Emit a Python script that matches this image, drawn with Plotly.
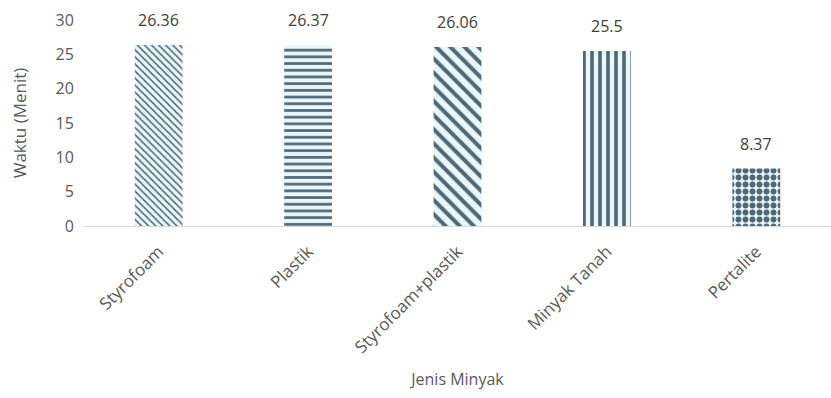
import plotly.graph_objects as go

categories = ["Styrofoam", "Plastik", "Styrofoam+plastik", "Minyak Tanah", "Pertalite"]
values = [26.36, 26.37, 26.06, 25.5, 8.37]
labels = ["26.36", "26.37", "26.06", "25.5", "8.37"]
shapes = ["\\", "-", "\\", "|", "."]
sizes = [5, 6.7, 10, 8, 7]
solidities = [0.3, 0.4, 0.4, 0.45, 0.55]

FG = "#4f6878"
BG = "#eaf6fa"
TXT = "#595959"
FONT = "Open Sans"

fig = go.Figure()
for c, v, sh, sz, so in zip(categories, values, shapes, sizes, solidities):
    fig.add_trace(go.Bar(
        x=[c], y=[v],
        width=0.32,
        marker=dict(color=BG, line=dict(width=0),
                    pattern=dict(shape=sh, fgcolor=FG, bgcolor=BG, size=sz, solidity=so,
                                 fgopacity=1, fillmode="replace")),
        showlegend=False,
    ))

for c, v, l in zip(categories, values, labels):
    fig.add_annotation(x=c, y=v, text=l, showarrow=False, yanchor="bottom", yshift=12,
                       font=dict(size=16, color="#404040", family=FONT))

fig.update_layout(
    width=831, height=398,
    margin=dict(l=84, r=0, t=20, b=172),
    paper_bgcolor="white", plot_bgcolor="white",
    font=dict(family=FONT, color=TXT, size=15),
    xaxis=dict(
        categoryorder="array", categoryarray=categories,
        tickangle=-45, showgrid=False, showline=True, linecolor="#d9d9d9", linewidth=1,
        ticks="outside", ticklen=8, tickcolor="rgba(0,0,0,0)",
        tickfont=dict(size=17, color=TXT, family=FONT),
        title=dict(text="Jenis Minyak", font=dict(size=16, color=TXT, family=FONT), standoff=16),
    ),
    yaxis=dict(
        range=[0, 30], dtick=5, showgrid=False, zeroline=False, showline=False,
        ticks="outside", ticklen=6, tickcolor="rgba(0,0,0,0)",
        tickfont=dict(size=16, color=TXT, family=FONT),
        title=dict(text="Waktu (Menit)", font=dict(size=17, color=TXT, family=FONT), standoff=24),
    ),
)

fig.write_html("out.html")
